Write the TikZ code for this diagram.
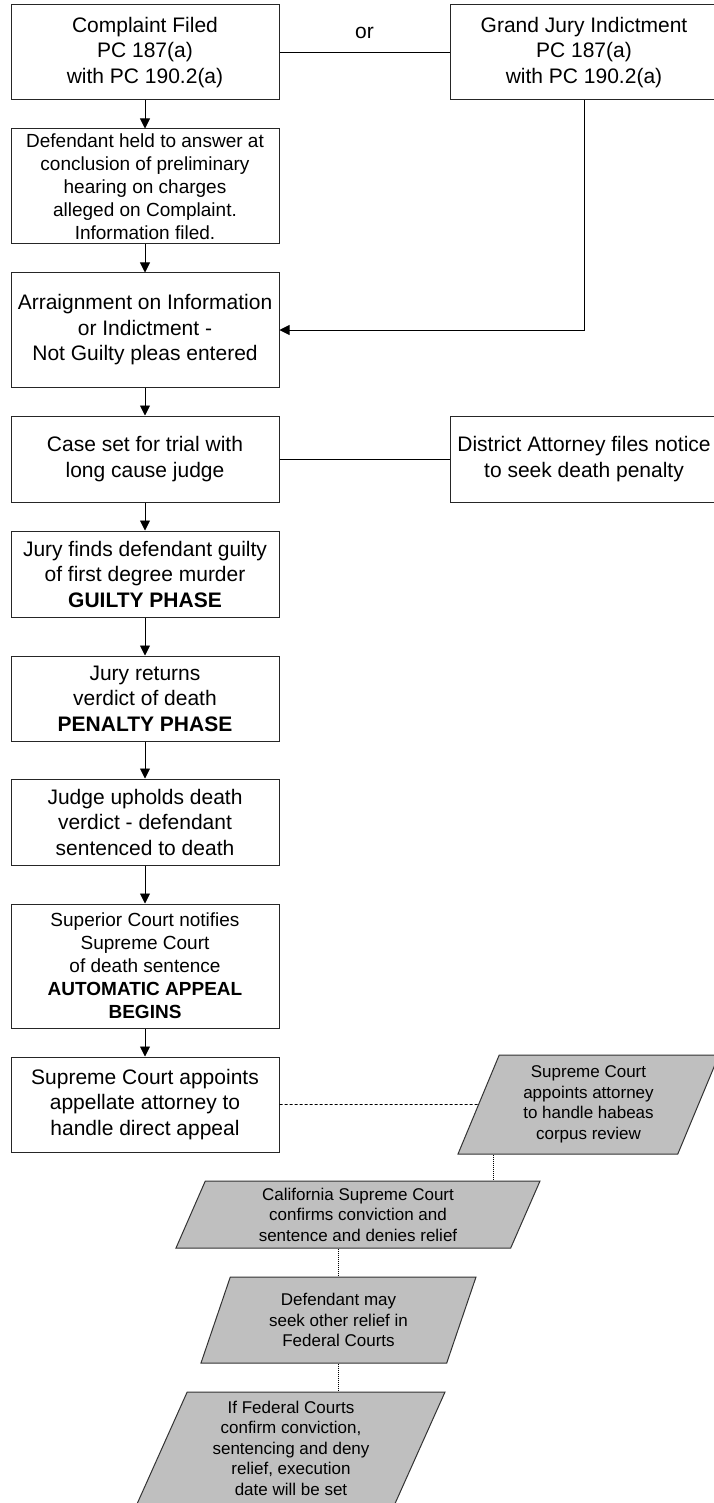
\documentclass[tikz,border=0pt]{standalone}
\usepackage{fontspec}
\setmainfont{Liberation Sans}
\usepackage{tikz}
\usetikzlibrary{arrows.meta,shapes.geometric,calc}
\newcommand{\fbig}{\fontsize{21}{25.5}\selectfont}
\newcommand{\fmid}{\fontsize{19}{23}\selectfont}
\newcommand{\fsml}{\fontsize{17}{20.5}\selectfont}

\begin{document}
\begin{tikzpicture}[x=1pt,y=-1pt,
  box/.style={draw=black!85,line width=1pt,fill=white,minimum width=268pt,inner sep=2pt,align=center,font=\fbig},
  pbox/.style={trapezium,trapezium left angle=63,trapezium right angle=117,trapezium stretches body=true,draw=black!80,line width=1pt,fill=black!25,inner sep=2pt,align=center,font=\fsml},
  arr/.style={-{Triangle[length=10pt,width=10pt]},line width=0.9pt},
  link/.style={line width=0.9pt},
  dashlink/.style={line width=0.8pt,dash pattern=on 3pt off 2pt},
  dotlink/.style={line width=1pt,dash pattern=on 1pt off 1pt}]
\useasboundingbox (0,0) rectangle (714,1503);

\node[box,minimum height=95pt] (cmp) at (145,52.5) {Complaint Filed\\PC 187(a)\\with PC 190.2(a)};
\node[box,minimum height=95pt] (indict) at (584,52.5) {Grand Jury Indictment\\PC 187(a)\\with PC 190.2(a)};
\node[box,minimum height=115pt,font=\fmid] (held) at (145,186.5) {Defendant held to answer at\\conclusion of preliminary\\hearing on charges\\alleged on Complaint.\\Information filed.};
\node[box,minimum height=114pt] (arraign) at (145,330) {Arraignment on Information\\or Indictment -\\Not Guilty pleas entered};
\node[box,minimum height=86pt] (trial) at (145,459) {Case set for trial with\\long cause judge};
\node[box,minimum height=86pt] (notice) at (584,459) {District Attorney files notice\\to seek death penalty};
\node[box,minimum height=86pt] (guilty) at (145,574) {Jury finds defendant guilty\\of first degree murder\\\textbf{GUILTY PHASE}};
\node[box,minimum height=85pt] (penalty) at (145,698.5) {Jury returns\\verdict of death\\\textbf{PENALTY PHASE}};
\node[box,minimum height=86pt] (sentence) at (145,822) {Judge upholds death\\verdict - defendant\\sentenced to death};
\node[box,minimum height=124pt,font=\fmid] (autoapp) at (145,966) {Superior Court notifies\\Supreme Court\\of death sentence\\\textbf{AUTOMATIC APPEAL}\\\textbf{BEGINS}};
\node[box,minimum height=95pt] (appoint) at (145,1104.5) {Supreme Court appoints\\appellate attorney to\\handle direct appeal};
\node[pbox,minimum width=261pt,minimum height=99pt] (habeas) at (588.5,1104.5) {Supreme Court\\appoints attorney\\to handle habeas\\corpus review};
\node[pbox,minimum width=364pt,minimum height=67pt] (calsc) at (358,1214.5) {California Supreme Court\\confirms conviction and\\sentence and denies relief};
\node[pbox,minimum width=275pt,minimum height=86pt] (fedrel) at (338.5,1320) {Defendant may\\seek other relief in\\Federal Courts};
\node[pbox,minimum width=308pt,minimum height=112pt] (execdate) at (291,1448) {If Federal Courts\\confirm conviction,\\sentencing and deny\\relief, execution\\date will be set};

\draw[link] (cmp) -- node[above=10pt,font=\fbig] (ortext) {or} (indict);
\draw[arr] (cmp) -- (held);
\draw[arr] (held) -- (arraign);
\draw[arr] (indict) |- (arraign);
\draw[arr] (arraign) -- (trial);
\draw[link] (trial) -- (notice);
\draw[arr] (trial) -- (guilty);
\draw[arr] (guilty) -- (penalty);
\draw[arr] (penalty) -- (sentence);
\draw[arr] (sentence) -- (autoapp);
\draw[arr] (autoapp) -- (appoint);
\draw[dashlink] (appoint) -- (habeas);
\draw[dotlink] ($(habeas.center |- habeas.bottom side)+(-95,0)$) -- ($(habeas.center |- calsc.top side)+(-95,0)$);
\draw[dotlink] (fedrel.center |- calsc.bottom side) -- (fedrel.center |- fedrel.top side);
\draw[dotlink] (fedrel.center |- fedrel.bottom side) -- (fedrel.center |- execdate.top side);
\end{tikzpicture}
\end{document}
